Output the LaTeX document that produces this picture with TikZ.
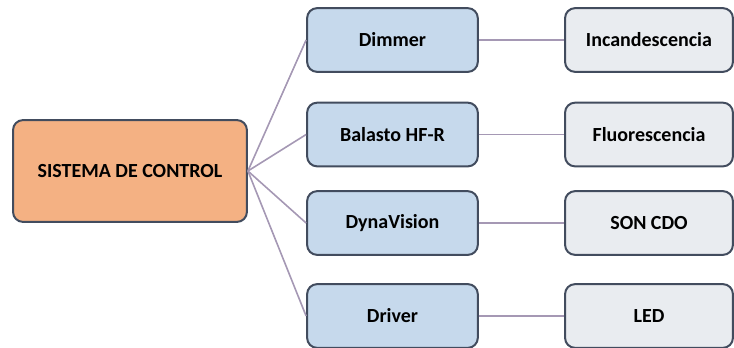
\documentclass[tikz,border=0pt]{standalone}
\usepackage{fontspec}
\setmainfont{Carlito}
\usepackage{tikz}

\definecolor{naranja}{RGB}{244,177,131}
\definecolor{azul}{RGB}{198,217,236}
\definecolor{gris}{RGB}{233,236,240}
\definecolor{borde}{RGB}{66,76,94}
\definecolor{linea}{RGB}{165,152,180}

\begin{document}
\begin{tikzpicture}[font=\bfseries\fontsize{10}{12}\selectfont]
                \tikzstyle{caja}=[rectangle, rounded corners=5pt, draw=borde, line width=1pt, text=black, inner sep=0pt]
                \tikzstyle{sistema}=[caja, fill=naranja, minimum width=4.11cm, minimum height=1.79cm]
                \tikzstyle{equipo}=[caja, fill=azul, minimum width=3.0cm, minimum height=1.12cm]
                \tikzstyle{lampara}=[caja, fill=gris, minimum width=2.95cm, minimum height=1.12cm]
                \tikzstyle{enlace}=[-, draw=linea, line width=0.8pt]

                    \useasboundingbox (0,0) rectangle (12.899,-6.115);

                    % Nodos
                    \node[sistema] (sc) at (2.284,-3.005) {SISTEMA DE CONTROL};
                    \node[equipo] (dim) at (6.897,-0.703) {Dimmer};
                    \node[equipo] (bal) at (6.897,-2.364) {Balasto HF-R};
                    \node[equipo] (dyn) at (6.897,-3.919) {DynaVision};
                    \node[equipo] (drv) at (6.897,-5.553) {Driver};
                    \node[lampara] (inc) at (11.405,-0.703) {Incandescencia};
                    \node[lampara] (flu) at (11.405,-2.364) {Fluorescencia};
                    \node[lampara] (son) at (11.405,-3.919) {SON CDO};
                    \node[lampara] (led) at (11.405,-5.553) {LED};

                    % Conexiones
                    \draw[enlace] (sc.east) -- (dim.west);
                    \draw[enlace] (sc.east) -- (bal.west);
                    \draw[enlace] (sc.east) -- (dyn.west);
                    \draw[enlace] (sc.east) -- (drv.west);
                    \draw[enlace] (dim) -- (inc);
                    \draw[enlace] (bal) -- (flu);
                    \draw[enlace] (dyn) -- (son);
                    \draw[enlace] (drv) -- (led);

            \end{tikzpicture}
\end{document}
